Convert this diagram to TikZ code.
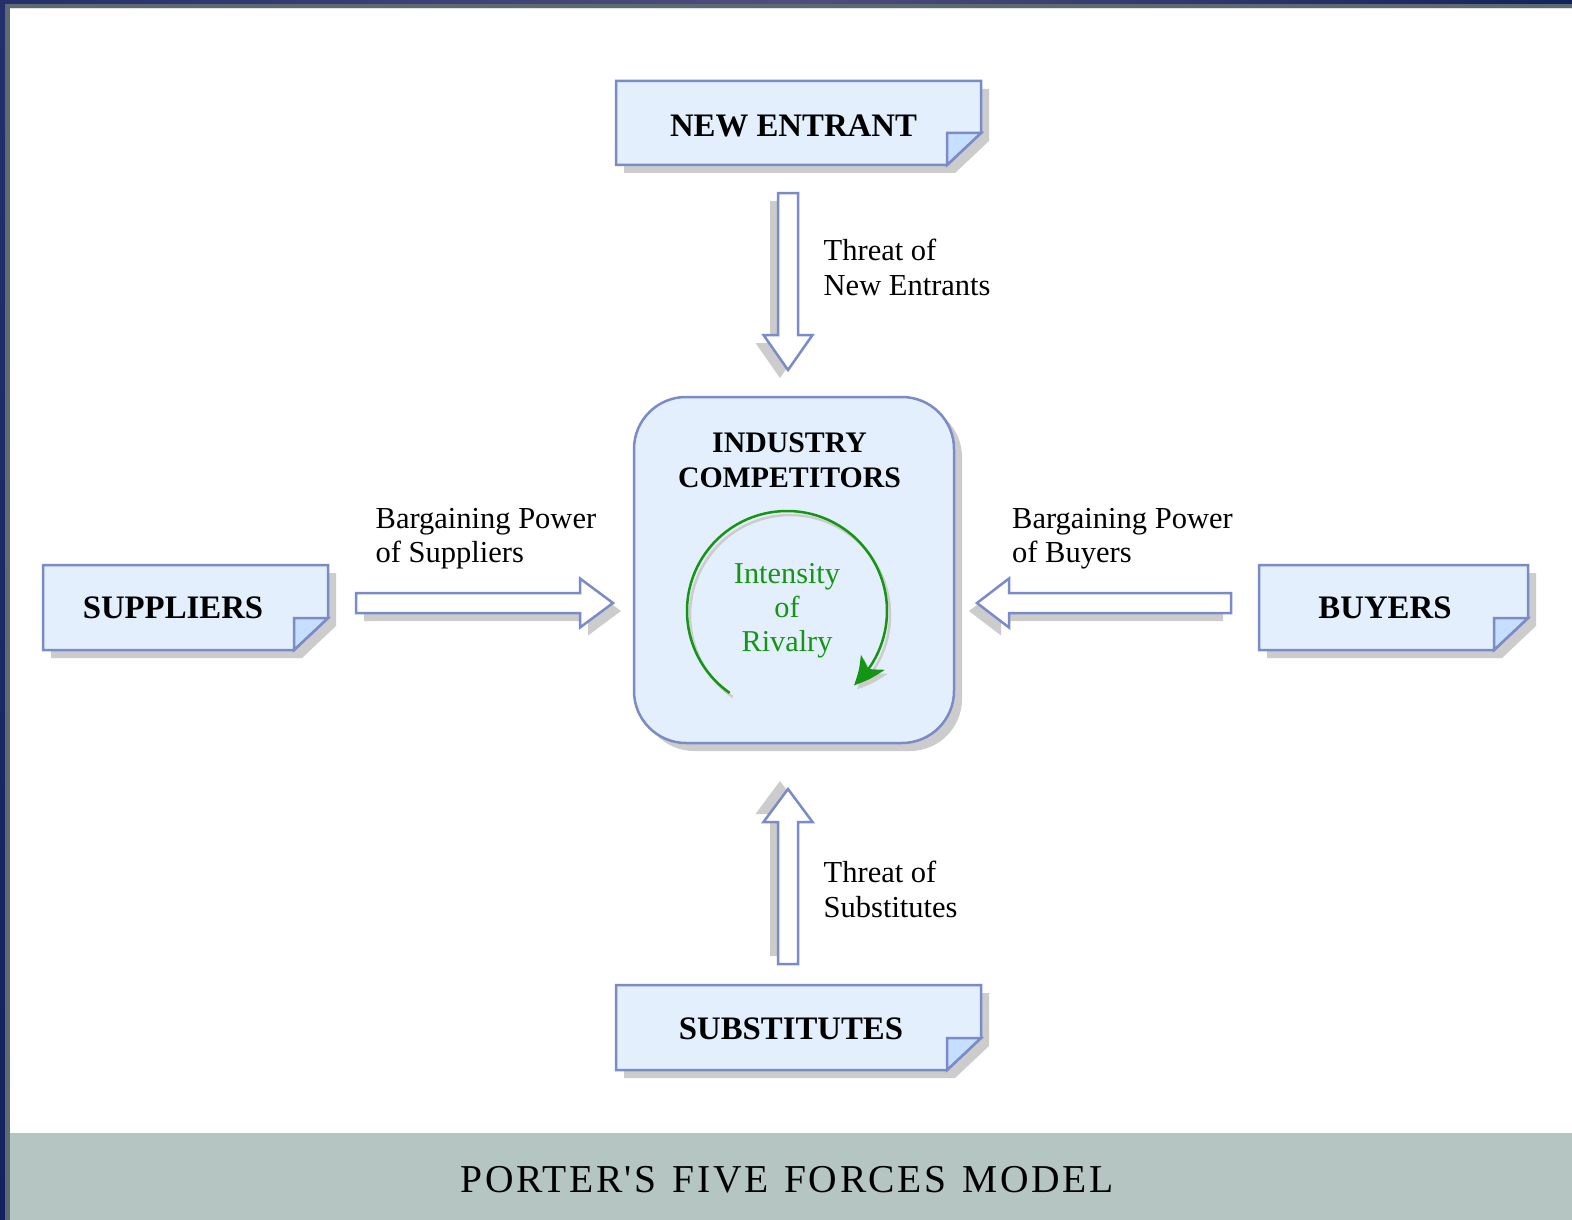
\documentclass[tikz,border=0pt]{standalone}
\usepackage{fontspec}
\setmainfont{Liberation Serif}
\newfontfamily\bannerfont[LetterSpace=6.5,WordSpace=1.3,Ligatures=TeXOff]{Liberation Serif}
\usetikzlibrary{calc,arrows.meta,bending,shadows}

\definecolor{paperfill}{RGB}{227,239,253}
\definecolor{foldfill}{RGB}{198,222,255}
\definecolor{edgeblue}{RGB}{122,139,200}
\definecolor{shadowgray}{RGB}{204,204,204}
\definecolor{rivalgreen}{RGB}{20,150,20}
\definecolor{bannergray}{RGB}{181,197,194}
\definecolor{framenavy}{RGB}{36,48,108}
\definecolor{framepurple}{RGB}{80,78,126}
\definecolor{framedeep}{RGB}{18,34,92}
\definecolor{framegray}{RGB}{93,106,112}

% note sheet with a folded lower right corner, drawn round an empty node
\newcommand\drawnote[1]{%
  \fill[papershadow] ([shift={(8,8)}]#1.north west) -- ([shift={(8,8)}]#1.north east)
    -- ([shift={(8,-24)}]#1.south east) -- ([shift={(-26,8)}]#1.south east)
    -- ([shift={(8,8)}]#1.south west) -- cycle;
  \draw[paper] (#1.north west) -- (#1.north east) -- ([shift={(0,-32)}]#1.south east)
    -- ([shift={(-34,0)}]#1.south east) -- (#1.south west) -- cycle;
  \draw[fold] ([shift={(-34,-32)}]#1.south east) -- ([shift={(0,-32)}]#1.south east)
    -- ([shift={(-34,0)}]#1.south east) -- cycle;
}
% hollow block arrow with its grey shadow
\newcommand\drawblockarrow[3]{%
  \fill[papershadow, shift={(#1,#2)}] #3;
  \draw[blockarrow] #3;
}

\begin{document}
\begin{tikzpicture}[x=1pt,y=-1pt,
  paper/.style={fill=paperfill, draw=edgeblue, line width=2.5pt, line join=miter},
  fold/.style={fill=foldfill, draw=edgeblue, line width=2.5pt, line join=miter},
  papershadow/.style={fill=shadowgray},
  slot/.style={inner sep=0pt, outer sep=0pt},
  boxlabel/.style={font=\fontsize{32.8}{38}\selectfont\bfseries, inner sep=0pt},
  forcelabel/.style={font=\fontsize{30.5}{34.5}\selectfont, align=left, inner sep=0pt, anchor=west},
  blockarrow/.style={fill=white, draw=edgeblue, line width=2.5pt, line join=miter},
]
\useasboundingbox (0,0) rectangle (1572,1220);
\fill[white] (0,0) rectangle (1572,1220);

% window frame
\shade[left color=framenavy, right color=framedeep, middle color=framepurple] (0,0) rectangle (1572,4.5);
\fill[framegray] (5,4.5) rectangle (1572,8.5);
\draw[white!80!framegray, line width=1pt] (9.5,9) -- (1572,9);
\shade[top color=framenavy, bottom color=framedeep] (0,0) rectangle (5,1220);
\fill[framegray] (5,4.5) rectangle (9.5,1220);

% caption band
\fill[bannergray] (9.5,1133) rectangle (1572,1220);
\node[inner sep=0pt, font=\bannerfont\fontsize{39.5}{46}\selectfont] (model) at (787,1180) {PORTER'S FIVE FORCES MODEL};

% the four outer forces
\node[slot, minimum width=365, minimum height=84] (entrant) at (798.5,123) {};
\node[slot, minimum width=365, minimum height=85] (substitutes) at (798.5,1027.5) {};
\node[slot, minimum width=285, minimum height=85] (suppliers) at (185.5,607.5) {};
\node[slot, minimum width=269, minimum height=85] (buyers) at (1393.5,607.5) {};
\drawnote{entrant}
\drawnote{substitutes}
\drawnote{suppliers}
\drawnote{buyers}
\node[boxlabel] (entrantlabel) at (793.5,126) {NEW ENTRANT};
\node[boxlabel] (substituteslabel) at (791,1028.5) {SUBSTITUTES};
\node[boxlabel] (supplierslabel) at (173,607.5) {SUPPLIERS};
\node[boxlabel] (buyerslabel) at (1385,607.5) {BUYERS};

% industry competitors in the middle
\node[draw=edgeblue, fill=paperfill, line width=2.5pt, rounded corners=52pt,
      minimum width=320, minimum height=346, inner sep=0pt,
      drop shadow={shadow xshift=8pt, shadow yshift=-8pt, fill=shadowgray, opacity=1}]
      (industry) at (794,570) {};
\node[inner sep=0pt, align=center, font=\fontsize{29.8}{35}\selectfont\bfseries]
      (industrylabel) at (789.5,460.5) {INDUSTRY\\COMPETITORS};

% rivalry loop
\coordinate (hub) at (787,611);
\draw[shadowgray, line width=2.5pt, -{Stealth[length=30pt,width=28pt,inset=8pt,bend]}]
  ($(hub)+(3,4)$) ++(125:100) arc[start angle=125, end angle=408, radius=100];
\draw[rivalgreen, line width=2.5pt, -{Stealth[length=30pt,width=28pt,inset=8pt,bend]}]
  (hub) ++(125:100) arc[start angle=125, end angle=408, radius=100];
\node[inner sep=0pt, align=center, text=rivalgreen, font=\fontsize{30.3}{34}\selectfont]
      (rivalry) at (787,610.5) {Intensity\\of\\Rivalry};

% force arrows
\drawblockarrow{-8}{8}{(778,193) -- (798,193) -- (798,335) -- (812.5,335) -- (788,370) -- (763.5,335) -- (778,335) -- cycle}
\drawblockarrow{-8}{-8}{(778,964) -- (798,964) -- (798,822) -- (812.5,822) -- (788,789) -- (763.5,822) -- (778,822) -- cycle}
\drawblockarrow{8}{8}{(356,593) -- (580,593) -- (580,578.5) -- (613,603) -- (580,627.5) -- (580,613) -- (356,613) -- cycle}
\drawblockarrow{-8}{8}{(1231,593) -- (1009,593) -- (1009,578.5) -- (977,603) -- (1009,627.5) -- (1009,613) -- (1231,613) -- cycle}

% force captions
\node[forcelabel] (threatnew) at (823.5,267.5) {Threat of\\New Entrants};
\node[forcelabel] (threatsub) at (823.5,889.5) {Threat of\\Substitutes};
\node[forcelabel] (powersup) at (375.5,538.5) {Bargaining Power\\of Suppliers};
\node[forcelabel] (powerbuy) at (1012,538.5) {Bargaining Power\\of Buyers};
\end{tikzpicture}
\end{document}
